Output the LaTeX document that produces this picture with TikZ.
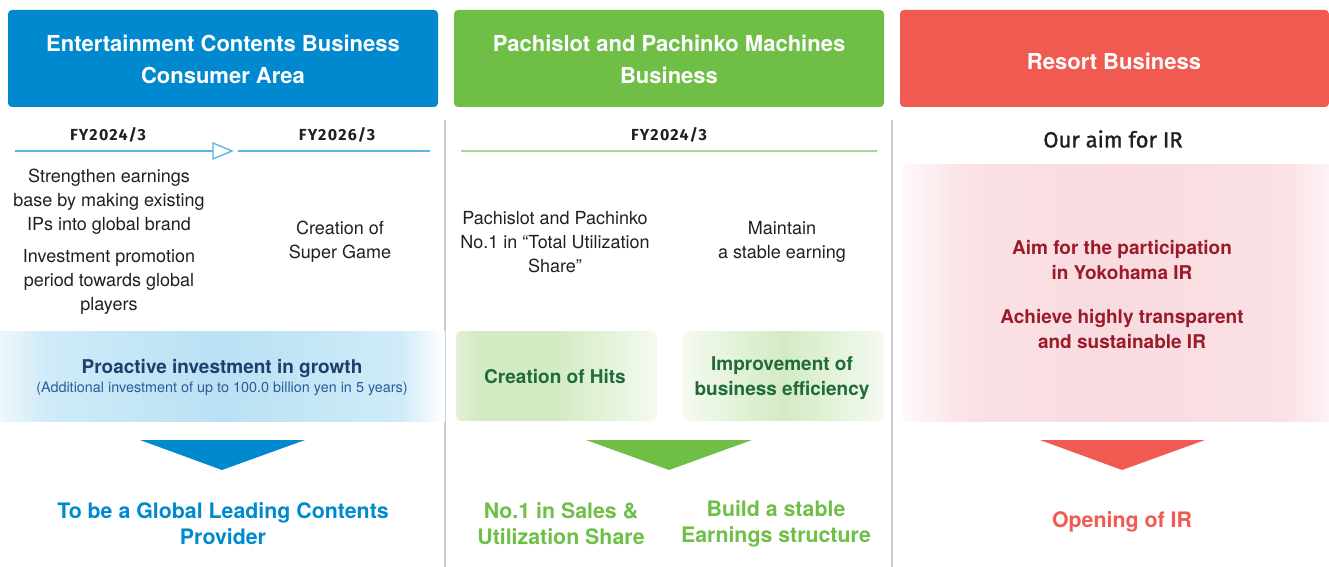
\documentclass[tikz,border=0pt]{standalone}
\usepackage{fontspec}
\setmainfont{TeX Gyre Heros}
\newfontfamily\dinfont[LetterSpace=8]{Fira Sans}
\newfontfamily\aimfont[UprightFeatures={FakeBold=1.2}]{Fira Sans}
\definecolor{hblue}{HTML}{0089CF}
\definecolor{hgreen}{HTML}{6FBF47}
\definecolor{hred}{HTML}{F05A50}
\definecolor{txt}{HTML}{231F20}
\definecolor{navy}{HTML}{1D3F6E}
\definecolor{subnavy}{HTML}{2B5C96}
\definecolor{dgreen}{HTML}{1F6B3A}
\definecolor{dred}{HTML}{9B1B2A}
\definecolor{lblue}{HTML}{5BB4E5}
\definecolor{lgreen}{HTML}{A5D88B}
\definecolor{sepgray}{HTML}{CCCCCC}
\definecolor{bbA}{HTML}{EEF7FC}
\definecolor{bbB}{HTML}{D0EBF8}
\definecolor{bbC}{HTML}{B9E1F4}
\definecolor{gaA}{HTML}{E2F2D8}
\definecolor{gaB}{HTML}{D3EBC3}
\definecolor{gaC}{HTML}{F4FAF0}
\definecolor{pkA}{HTML}{FFF8F9}
\definecolor{pkB}{HTML}{FAE1E5}
\definecolor{pkC}{HTML}{F9DBE0}
\definecolor{pkD}{HTML}{FDF3F5}
\pgfdeclarehorizontalshading{blueband}{100bp}{color(0bp)=(bbA); color(25bp)=(bbA); color(30bp)=(bbB); color(50bp)=(bbC); color(70bp)=(bbB); color(75bp)=(white); color(100bp)=(white)}
\pgfdeclarehorizontalshading{greenone}{100bp}{color(0bp)=(gaA); color(25bp)=(gaA); color(30bp)=(gaB); color(50bp)=(gaB); color(75bp)=(gaC); color(100bp)=(gaC)}
\pgfdeclarehorizontalshading{greentwo}{100bp}{color(0bp)=(gaC); color(25bp)=(gaC); color(50bp)=(gaB); color(75bp)=(gaC); color(100bp)=(gaC)}
\pgfdeclarehorizontalshading{pinkband}{100bp}{color(0bp)=(pkA); color(25bp)=(pkA); color(33bp)=(pkB); color(50bp)=(pkC); color(70bp)=(pkB); color(75bp)=(pkD); color(100bp)=(pkD)}
\tikzset{
  head/.style={text=white,font={\fontsize{16.5}{24}\selectfont\bfseries},align=center},
  fy/.style={text=txt,font={\dinfont\fontsize{12}{14}\selectfont\bfseries}},
  body/.style={text=txt,font={\fontsize{13.5}{18}\selectfont},align=center},
  band/.style={font={\fontsize{14.25}{18.5}\selectfont\bfseries},align=center},
  goal/.style={font={\fontsize{16}{19.5}\selectfont\bfseries},align=center},
  sep/.style={draw=sepgray,line width=1.5},
}
\begin{document}
\begin{tikzpicture}[x=0.75pt,y=-0.75pt]
\useasboundingbox (0,0) rectangle (1329,567);
% header boxes
\fill[hblue,rounded corners=3] (8,10) rectangle (438,107);
\fill[hgreen,rounded corners=3] (454,10) rectangle (884,107);
\fill[hred,rounded corners=3] (900,10) rectangle (1329,107);
\node[head] (h1) at (223,59) {Entertainment Contents Business\\Consumer Area};
\node[head] (h2) at (669,59) {Pachislot and Pachinko Machines\\Business};
\node[head] (h3) at (1114,61) {Resort Business};
% separators
\draw[sep] (445,120) -- (445,567);
\draw[sep] (892,120) -- (892,567);
% column 1
\node[fy] (fy1) at (108,135) {FY2024/3};
\node[fy] (fy2) at (337,135) {FY2026/3};
\draw[lblue,line width=1] (15,151) -- (213,151);
\draw[lblue,line width=1,fill=white] (213,143) -- (232,151) -- (213,159) -- cycle;
\draw[lblue,line width=1] (238,151) -- (430,151);
\node[body] (s1) at (109,202) {Strengthen earnings\\base by making existing\\IPs into global brand};
\node[body] (s2) at (109,282) {Investment promotion\\period towards global\\players};
\node[body] (s3) at (340,242) {Creation of\\Super Game};
\shade[shading=blueband] (0,331) rectangle (445,421);
\node[band,text=navy] (p1) at (222,368) {Proactive investment in growth};
\node[text=subnavy,font={\fontsize{10.8}{13}\selectfont}] (p2) at (222,389) {(Additional investment of up to 100.0 billion yen in 5 years)};
\fill[hblue] (140,440) -- (305,440) -- (222,470) -- cycle;
\node[goal,text=hblue] (g1) at (223,524) {To be a Global Leading Contents\\Provider};
% column 2
\node[fy] (fy3) at (669,135) {FY2024/3};
\draw[lgreen,line width=1] (461,151) -- (877,151);
\node[body] (s4) at (555,242) {Pachislot and Pachinko\\No.1 in “Total Utilization\\Share”};
\node[body] (s5) at (782,242) {Maintain\\a stable earning};
\shade[shading=greenone,rounded corners=4] (456,331) rectangle (657,421);
\shade[shading=greentwo,rounded corners=4] (683,331) rectangle (884,421);
\node[band,text=dgreen] (b1) at (555,377) {Creation of Hits};
\node[band,text=dgreen] (b2) at (782,378) {Improvement of\\business efficiency};
\fill[hgreen] (586,440) -- (752,440) -- (669,470) -- cycle;
\node[goal,text=hgreen] (g2) at (561,524) {No.1 in Sales \&\\Utilization Share};
\node[goal,text=hgreen] (g3) at (776,524) {Build a stable\\Earnings structure};
% column 3
\node[text=txt,font={\aimfont\fontsize{16.5}{19}\selectfont}] (aim) at (1113,139) {Our aim for IR};
\shade[shading=pinkband] (903,164) rectangle (1329,421);
\node[band,text=dred] (r1) at (1122,260) {Aim for the participation\\in Yokohama IR};
\node[band,text=dred] (r2) at (1122,329) {Achieve highly transparent\\and sustainable IR};
\fill[hred] (1040,440) -- (1205,440) -- (1122,470) -- cycle;
\node[goal,text=hred] (g4) at (1122,522) {Opening of IR};
\end{tikzpicture}
\end{document}
